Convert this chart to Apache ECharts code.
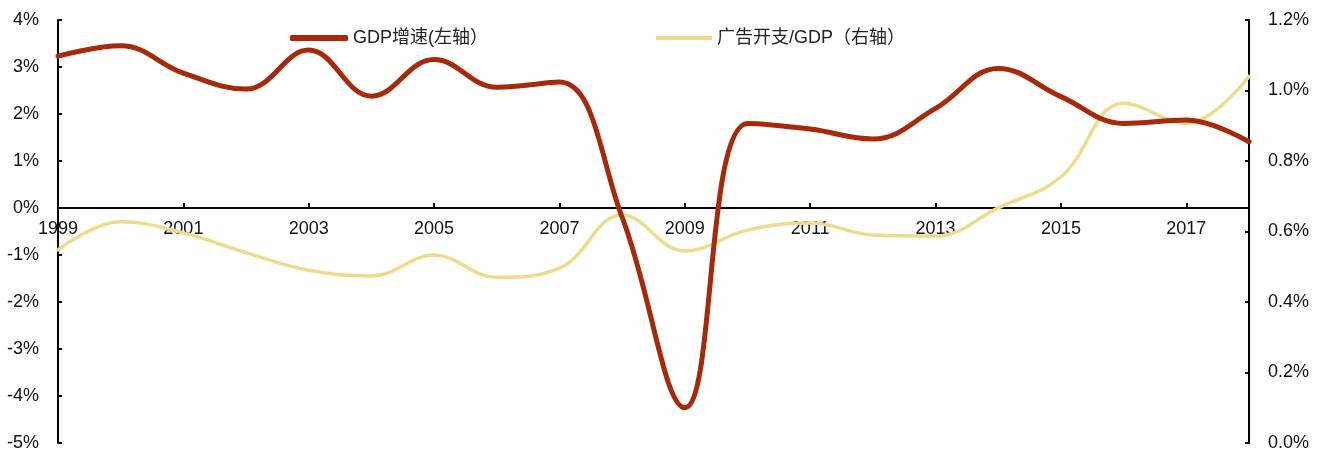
<!DOCTYPE html>
<html>
<head>
<meta charset="utf-8" />
<title>GDP增速与广告开支</title>
<script src="https://cdn.jsdelivr.net/npm/echarts@6/dist/echarts.min.js"></script>
<style>
  html, body { margin: 0; padding: 0; background: #fff; }
</style>
</head>
<body>
<div id="main" style="width:1328px;height:451px"></div>
<script>
// years on the x axis
var years = ['1999','2000','2001','2002','2003','2004','2005','2006','2007','2008',
             '2009','2010','2011','2012','2013','2014','2015','2016','2017','2018'];
// GDP增速 (%), left axis
var gdpGrowth = [3.23, 3.45, 2.87, 2.53, 3.36, 2.38, 3.16, 2.57, 2.68, -0.2,
                 -4.25, 1.8, 1.68, 1.47, 2.12, 2.97, 2.37, 1.8, 1.87, 1.41];
// 广告开支/GDP (%), right axis
var adShare = [0.548, 0.628, 0.596, 0.54, 0.49, 0.474, 0.533, 0.47, 0.496, 0.647,
               0.545, 0.604, 0.624, 0.59, 0.587, 0.667, 0.755, 0.964, 0.907, 1.04];

var names = ['GDP增速(左轴）', '广告开支/GDP（右轴）'];
var red = '#A8290A';
var yellow = '#F0DA8C';
var font = 'Liberation Sans, Arial, Noto Sans CJK SC, sans-serif';

// grid box, used to put the category axis on the 0% line
var gridTop = 20, gridBottom = 8, chartH = 451;
var leftMin = -5, leftMax = 4;
var plotH = chartH - gridTop - gridBottom;
var zeroOffset = -plotH * (0 - leftMin) / (leftMax - leftMin);

var myChart = echarts.init(document.getElementById('main'));

var option = {
    backgroundColor: '#fff',
    animation: false,
    textStyle: { fontFamily: font },
    legend: [
        {
            data: [names[0]],
            left: 285, top: 24,
            itemWidth: 58, itemHeight: 6, itemGap: 4,
            icon: 'roundRect',
            textStyle: { fontSize: 18, color: '#222', fontFamily: font }
        },
        {
            data: [names[1]],
            left: 651, top: 24,
            itemWidth: 56, itemHeight: 4,
            icon: 'roundRect',
            textStyle: { fontSize: 18, color: '#222', fontFamily: font }
        }
    ],
    grid: { left: 58, right: 79, top: gridTop, bottom: gridBottom, containLabel: false, outerBoundsMode: 'none' },
    xAxis: {
        type: 'category',
        data: years,
        boundaryGap: false,
        position: 'bottom',
        offset: zeroOffset,
        axisLine: { onZero: false, lineStyle: { color: '#000', width: 2 } },
        axisTick: { inside: true, length: 5, interval: 1, lineStyle: { color: '#000', width: 2 } },
        axisLabel: { interval: 1, fontSize: 18, color: '#111', margin: 12 },
        splitLine: { show: false }
    },
    yAxis: [
        {
            type: 'value',
            min: leftMin, max: leftMax, interval: 1,
            axisLine: { show: true, lineStyle: { color: '#000', width: 2 } },
            axisTick: { show: true, inside: true, length: 4, lineStyle: { color: '#000', width: 2 } },
            axisLabel: { formatter: '{value}%', fontSize: 18, color: '#111', margin: 19 },
            splitLine: { show: false }
        },
        {
            type: 'value',
            min: 0, max: 1.2, interval: 0.2,
            position: 'right',
            axisLine: { show: true, lineStyle: { color: '#000', width: 2 } },
            axisTick: { show: true, inside: true, length: 4, lineStyle: { color: '#000', width: 2 } },
            axisLabel: {
                formatter: function (v) { return v.toFixed(1) + '%'; },
                fontSize: 18, color: '#111', margin: 19
            },
            splitLine: { show: false }
        }
    ],
    series: [
        {
            name: names[0],
            type: 'line',
            yAxisIndex: 0,
            data: gdpGrowth,
            smooth: 0.4,
            showSymbol: false,
            lineStyle: { color: red, width: 5, cap: 'round' },
            itemStyle: { color: red },
            z: 3
        },
        {
            name: names[1],
            type: 'line',
            yAxisIndex: 1,
            data: adShare,
            smooth: 0.4,
            showSymbol: false,
            lineStyle: { color: yellow, width: 3.5, cap: 'round' },
            itemStyle: { color: yellow },
            z: 2
        }
    ]
};

myChart.setOption(option);
</script>
</body>
</html>
